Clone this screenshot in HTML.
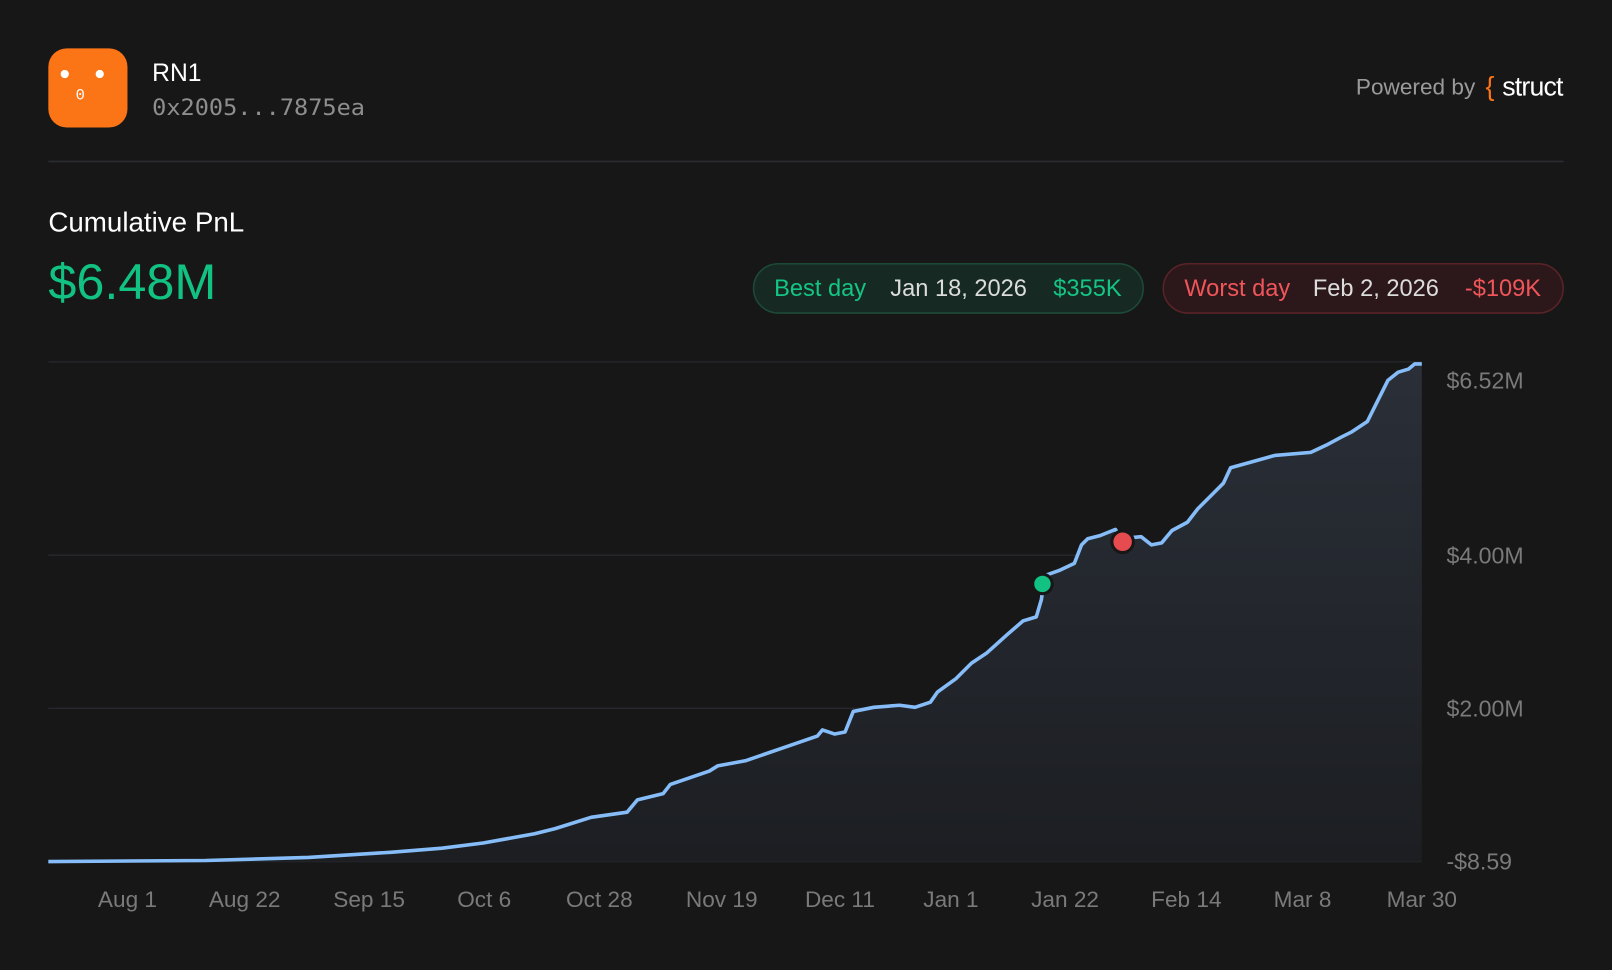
<!DOCTYPE html>
<html><head><meta charset="utf-8"><style>
html,body{margin:0;padding:0;background:#171717;width:1612px;height:970px;overflow:hidden}
svg{display:block}
text{font-family:"Liberation Sans",sans-serif}
</style></head><body>
<svg width="1612" height="970" viewBox="0 0 1568 943.5" xmlns="http://www.w3.org/2000/svg">
<defs>
<linearGradient id="fg" x1="0" y1="0" x2="0" y2="1">
<stop offset="0" stop-color="#2a2f38"/>
<stop offset="1" stop-color="#1c1e22"/>
</linearGradient>
</defs>
<rect width="1568" height="944" fill="#171717"/>
<rect x="47" y="47" width="77" height="77" rx="18" fill="#fb7415"/>
<circle cx="63" cy="72" r="4" fill="#fff"/>
<circle cx="97" cy="72" r="4" fill="#fff"/>
<text x="78" y="97" font-size="15" fill="#fff" text-anchor="middle" style="font-family:'Liberation Mono',monospace">0</text>
<text x="148" y="79" font-size="24" fill="#fff">RN1</text>
<text x="148" y="112" font-size="21.5" fill="#8e8e8e" style="font-family:'DejaVu Sans Mono','Liberation Mono',monospace" textLength="207" lengthAdjust="spacingAndGlyphs">0x2005...7875ea</text>
<text x="1435" y="92" font-size="22" fill="#9a9a9a" text-anchor="end">Powered by</text>
<text x="1445" y="93" font-size="26" fill="#fb7415">{</text>
<text x="1520" y="93" font-size="26" fill="#fff" text-anchor="end" letter-spacing="-0.8">struct</text>
<line x1="47" y1="157" x2="1521" y2="157" stroke="#2a2d33" stroke-width="1.5"/>
<text x="47" y="225" font-size="27" fill="#fff">Cumulative PnL</text>
<text x="47" y="291" font-size="49" fill="#11c282">$6.48M</text>
<rect x="733" y="256.5" width="379" height="48" rx="24" fill="#162a23" stroke="#1d4a37" stroke-width="1.5"/>
<text x="753" y="288" font-size="23" fill="#14c585">Best day</text>
<text x="866" y="288" font-size="23" fill="#dcdcdc">Jan 18, 2026</text>
<text x="1091" y="288" font-size="23" fill="#14c585" text-anchor="end">$355K</text>
<rect x="1131.5" y="256.5" width="389" height="48" rx="24" fill="#2c181a" stroke="#5a2328" stroke-width="1.5"/>
<text x="1152" y="288" font-size="23" fill="#f0555a">Worst day</text>
<text x="1277" y="288" font-size="23" fill="#dcdcdc">Feb 2, 2026</text>
<text x="1499" y="288" font-size="23" fill="#f0555a" text-anchor="end">-$109K</text>
<g stroke="#26282d" stroke-width="1.3">
<line x1="47" y1="352" x2="1383" y2="352"/>
<line x1="47" y1="540" x2="1383" y2="540"/>
<line x1="47" y1="689" x2="1383" y2="689"/>
<line x1="47" y1="838" x2="1383" y2="838"/>
</g>
<path fill="url(#fg)" d="M47,838 L200,837 L300,834 L380,829 L430,825 L470,820 L520,811 L540,806 L575,795 L610,790 L620,778 L645,772 L652,763 L690,750 L698,745 L725,740 L760,728 L795,716 L800,710 L812,714 L822,712 L830,692 L850,688 L875,686 L890,688 L905,683 L912,673 L930,660 L945,645 L960,635 L980,617 L995,604 L1008,600 L1013,583 L1016,560 L1030,555 L1045,548 L1052,530 L1058,524 L1070,521 L1085,515 L1092,527 L1100,523 L1110,522 L1120,530 L1130,528 L1140,516 L1155,508 L1165,495 L1180,480 L1190,470 L1197,455 L1215,450 L1240,443 L1275,440 L1290,433 L1305,425 L1315,420 L1330,410 L1340,390 L1350,370 L1360,362 L1370,359 L1376,354 L1383,354 L1383,838 Z"/>
<path fill="none" stroke="#86bdf9" stroke-width="3.5" stroke-linejoin="round" d="M47,838 L200,837 L300,834 L380,829 L430,825 L470,820 L520,811 L540,806 L575,795 L610,790 L620,778 L645,772 L652,763 L690,750 L698,745 L725,740 L760,728 L795,716 L800,710 L812,714 L822,712 L830,692 L850,688 L875,686 L890,688 L905,683 L912,673 L930,660 L945,645 L960,635 L980,617 L995,604 L1008,600 L1013,583 L1016,560 L1030,555 L1045,548 L1052,530 L1058,524 L1070,521 L1085,515 L1092,527 L1100,523 L1110,522 L1120,530 L1130,528 L1140,516 L1155,508 L1165,495 L1180,480 L1190,470 L1197,455 L1215,450 L1240,443 L1275,440 L1290,433 L1305,425 L1315,420 L1330,410 L1340,390 L1350,370 L1360,362 L1370,359 L1376,354 L1383,354"/>
<circle cx="1014" cy="568" r="11" fill="#171717"/>
<circle cx="1014" cy="568" r="8" fill="#11c282"/>
<circle cx="1092" cy="527" r="12" fill="#171717"/>
<circle cx="1092" cy="527" r="9" fill="#e54b4f"/>
<g font-size="22.5" fill="#7a7a7a">
<text x="1407" y="378">$6.52M</text>
<text x="1407" y="548">$4.00M</text>
<text x="1407" y="697">$2.00M</text>
<text x="1407" y="846">-$8.59</text>
</g>
<g font-size="22" fill="#7a7a7a" text-anchor="middle">
<text x="124" y="882">Aug 1</text>
<text x="238" y="882">Aug 22</text>
<text x="359" y="882">Sep 15</text>
<text x="471" y="882">Oct 6</text>
<text x="583" y="882">Oct 28</text>
<text x="702" y="882">Nov 19</text>
<text x="817" y="882">Dec 11</text>
<text x="925" y="882">Jan 1</text>
<text x="1036" y="882">Jan 22</text>
<text x="1154" y="882">Feb 14</text>
<text x="1267" y="882">Mar 8</text>
<text x="1383" y="882">Mar 30</text>
</g>
</svg>
</body></html>
